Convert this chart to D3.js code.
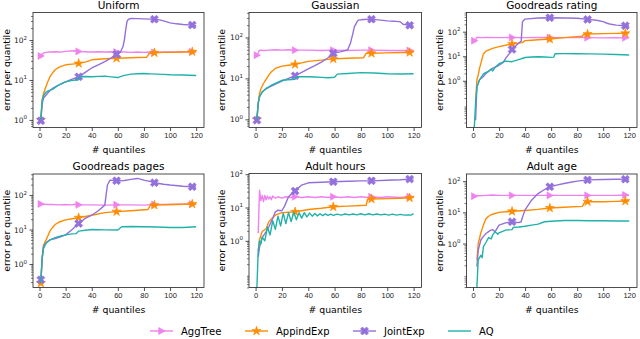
<!DOCTYPE html>
<html>
<head>
<meta charset="utf-8">
<script src="https://cdn.jsdelivr.net/npm/d3@7"></script>
<style>
	body { margin: 0; background: #fff; }
	svg { font-family: "DejaVu Sans", sans-serif; }
</style>
</head>
<body>
<div id="chartDiv"></div>
<script>
; (function () {

	var width = 640;
	var height = 339;

	var titles = ["Uniform", "Gaussian", "Goodreads rating", "Goodreads pages", "Adult hours", "Adult age"];
	var seriesNames = ["AggTree", "AppindExp", "JointExp", "AQ"];
	var xTicks = [0, 20, 40, 60, 80, 100, 120];
	var yTickValues = [1, 10, 100];
	var markerXs = [1, 30, 59, 88, 117];

	// [quantiles, error] per panel
	var aggTree = [
		[[1, 40], [2, 44], [3, 47], [5, 49], [8, 50], [12, 51], [16, 50], [20, 52], [24, 53], [27, 54], [30, 52], [35, 51], [40, 50], [45, 51], [50, 50], [55, 51], [59, 50], [65, 50], [70, 49], [75, 50], [80, 49], [85, 50], [88, 49], [95, 50], [100, 50], [105, 50], [110, 51], [117, 51], [120, 51]],
		[[1, 37], [2, 42], [3, 49], [6, 48], [10, 49], [15, 50], [20, 49], [25, 50], [30, 49], [40, 49], [50, 48], [59, 49], [70, 48], [80, 49], [88, 49], [100, 48], [110, 48], [117, 48], [120, 48]],
		[[1, 43], [2, 48], [3, 59], [6, 57], [10, 58], [20, 57], [30, 58], [40, 57], [50, 58], [59, 58], [70, 57], [80, 58], [88, 57], [100, 56], [110, 57], [117, 56], [120, 57]],
		[[1, 55], [3, 54], [6, 53], [10, 53], [15, 52], [20, 53], [25, 52], [27, 54], [30, 52], [40, 52], [50, 51], [59, 52], [70, 52], [80, 51], [88, 53], [100, 53], [110, 54], [117, 55], [120, 55]],
		[[2, 1.7], [3, 33], [4, 16], [5, 23], [6, 15], [7, 23], [8, 17], [9, 22], [10, 18], [11, 21], [12, 17], [13, 22], [15, 19], [17, 21], [20, 19], [23, 21], [26, 20], [30, 21], [35, 20], [40, 21], [45, 20], [50, 21], [55, 20], [59, 21], [65, 20], [70, 21], [75, 20], [80, 21], [85, 20], [88, 21], [95, 20], [100, 21], [110, 20], [117, 21], [120, 21]],
		[[1, 33], [2, 32], [3, 35], [5, 34], [10, 35], [15, 36], [20, 35], [30, 35], [40, 35], [50, 35], [59, 35], [70, 35], [80, 35], [88, 35], [100, 35], [110, 35], [117, 36], [120, 35]]
	];

	var appindExp = [
		[[1, 1], [2, 3.2], [3, 4.5], [4, 5.6], [6, 8.5], [8, 12], [10, 15], [12, 18], [15, 21], [20, 24], [25, 25], [30, 26], [35, 28], [40, 32], [45, 33], [50, 34], [59, 35], [65, 35.5], [70, 36], [75, 36.5], [82, 37], [84, 46], [88, 48], [95, 49], [100, 49], [110, 50], [117, 51], [120, 52]],
		[[1, 1], [2, 2.5], [3, 4.3], [4, 5.5], [6, 7.5], [8, 9.5], [10, 12], [12, 14.5], [15, 17.5], [20, 20], [25, 21], [30, 22], [35, 24], [40, 26], [50, 28], [59, 30], [70, 31], [82, 32], [84, 41], [88, 41], [100, 42], [110, 43], [117, 43], [120, 44]],
		[[2, 0.13], [3, 1.1], [4, 1.75], [5, 3.2], [6, 5], [7, 8], [8, 12.7], [10, 16], [15, 21], [20, 24.5], [25, 28], [30, 31.5], [35, 34], [38, 36], [40, 43], [45, 45], [50, 47], [59, 50], [70, 57], [80, 63], [84, 65], [85, 78], [88, 80], [100, 83], [110, 85], [117, 86], [120, 87]],
		[[1, 0.28], [2, 1.25], [3, 3.5], [5, 5], [8, 9], [10, 11.5], [12, 14], [15, 16.5], [20, 19], [25, 20.5], [30, 22], [40, 26], [50, 31], [59, 33], [70, 35], [83, 38], [85, 51], [88, 51], [100, 53], [110, 54], [117, 55], [120, 55]],
		[[2, 0.5], [3, 1.1], [5, 1.9], [8, 2.3], [10, 3.7], [12, 4.5], [15, 5.9], [20, 7], [25, 7.2], [30, 7.4], [35, 8], [40, 8.7], [50, 9.5], [59, 10.5], [70, 11], [84, 11.7], [85, 17.4], [88, 18], [100, 18.5], [110, 19], [117, 19.5], [120, 20]],
		[[3, 0.3], [4, 1], [5, 1.45], [6, 2.2], [8, 3.9], [10, 6.3], [12, 7.5], [15, 8.7], [20, 10], [25, 10.5], [30, 10.8], [40, 11.5], [50, 12.5], [59, 13.8], [70, 14.5], [84, 15.6], [86, 21.6], [88, 22], [100, 22], [110, 22.5], [117, 23], [120, 23]]
	];

	var jointExp = [
		[[1, 0.95], [2, 2.5], [3, 3.5], [5, 4.2], [7, 5], [10, 6.2], [13, 7], [15, 7.5], [20, 9], [25, 10.5], [30, 12], [35, 15.5], [40, 20], [45, 24], [50, 29], [55, 36], [59, 44], [62, 50], [64, 70], [65, 100], [66, 180], [67, 288], [68, 330], [70, 346], [75, 345], [80, 340], [85, 335], [88, 333], [92, 320], [95, 302], [100, 270], [105, 255], [110, 245], [117, 237], [120, 230]],
		[[1, 0.95], [2, 2.5], [3, 3.5], [5, 4.7], [7, 5.3], [10, 6], [15, 7.2], [20, 8.6], [25, 10], [30, 11.6], [35, 14], [40, 17], [45, 20.5], [50, 25], [55, 32], [59, 41], [65, 45], [70, 50], [72, 72], [74, 130], [75, 182], [77, 240], [78, 265], [82, 275], [88, 280], [95, 265], [100, 255], [105, 250], [110, 240], [112, 210], [117, 198], [120, 188]],
		[[2, 0.025], [3, 0.6], [4, 0.8], [5, 1.1], [8, 1.5], [10, 2], [12, 2.5], [15, 3.2], [20, 4.3], [23, 5.5], [25, 8], [28, 13], [30, 19], [33, 27], [35, 34], [37, 40], [38, 255], [40, 325], [50, 360], [59, 370], [70, 360], [80, 350], [88, 316], [95, 290], [100, 255], [103, 220], [105, 205], [110, 185], [117, 175], [120, 170]],
		[[1, 0.35], [2, 1.5], [3, 3.2], [5, 4.2], [8, 5], [12, 5.5], [15, 5.9], [20, 7], [25, 10], [30, 15], [35, 21], [40, 26], [45, 35], [50, 51], [51, 100], [52, 195], [54, 270], [59, 260], [65, 265], [70, 285], [75, 303], [80, 270], [85, 244], [88, 228], [95, 205], [100, 195], [110, 180], [117, 174], [120, 172]],
		[[2, 0.33], [3, 0.65], [5, 1.25], [8, 1.9], [10, 2.6], [13, 4.7], [15, 7.4], [17, 8.3], [20, 8], [22, 11], [25, 21], [28, 27], [30, 31], [35, 47], [40, 55], [50, 57], [59, 59], [70, 61], [80, 63], [88, 63], [100, 66], [110, 68], [117, 71], [120, 72]],
		[[3, 0.18], [4, 0.6], [6, 1.3], [8, 1.7], [10, 2.1], [13, 2.6], [15, 2.8], [17, 2.4], [20, 3.9], [25, 4.6], [30, 5], [35, 4.7], [37, 5], [38, 7], [40, 12], [45, 24.5], [50, 40], [55, 54], [59, 66], [65, 76], [70, 84], [75, 92], [80, 100], [88, 110], [100, 113], [110, 115], [117, 116], [120, 116]]
	];

	var aq = [
		[[1, 1], [2, 3], [3, 4], [5, 5], [7, 5.4], [10, 5.8], [12, 6.5], [15, 7.5], [18, 8.5], [20, 9], [25, 9.8], [28, 10], [30, 10.1], [31, 12], [35, 12.2], [40, 12], [45, 12.3], [50, 12.5], [55, 12], [60, 11.5], [63, 12.5], [65, 13], [70, 14], [75, 14.3], [80, 14.5], [85, 14.2], [90, 14], [95, 13.8], [100, 13.5], [110, 13.3], [120, 13]],
		[[1, 1], [2, 2.5], [3, 3.6], [5, 4.6], [8, 5.7], [12, 6.8], [15, 7.5], [20, 9], [25, 9.3], [30, 9.5], [31, 11], [40, 11], [45, 10.8], [50, 10.6], [55, 10.4], [60, 10.7], [62, 12.7], [70, 13.2], [80, 13.8], [90, 13.5], [100, 13], [110, 12.8], [120, 13]],
		[[1, 0.013], [2, 0.13], [3, 0.55], [5, 1.1], [8, 1.9], [10, 2.2], [12, 2.4], [14, 3], [15, 2.5], [17, 3.5], [20, 5], [25, 6.3], [30, 6], [35, 7.3], [40, 8.9], [45, 9.3], [50, 9.5], [55, 9.3], [60, 9], [62, 9.2], [63, 12.7], [70, 12.8], [80, 12.7], [90, 12.5], [100, 12.2], [110, 11.8], [120, 11.3]],
		[[1, 0.28], [2, 1.5], [3, 2.8], [5, 4], [8, 5], [12, 5.8], [15, 6.3], [20, 7], [25, 7.5], [28, 7.6], [30, 9], [35, 9.5], [40, 10], [50, 9.8], [60, 9.7], [63, 12], [70, 12.2], [80, 12], [90, 11.8], [100, 11.5], [110, 11.5], [120, 12]],
		[[1, 0.04], [2, 0.5], [3, 1.0], [4, 0.8], [5, 1.3], [7, 1.0], [9, 2.6], [11, 1.5], [13, 4], [15, 2.2], [17, 5.5], [19, 2.8], [21, 6.8], [23, 3.3], [25, 7], [27, 3.8], [29, 7.2], [31, 4.3], [33, 7], [35, 4.8], [37, 7], [39, 5.2], [41, 6.8], [43, 5.5], [45, 6.6], [47, 5.6], [49, 6.5], [51, 5.7], [53, 6.4], [55, 5.8], [57, 6.3], [59, 5.8], [62, 6.3], [65, 5.9], [68, 6.4], [71, 6.0], [74, 6.4], [77, 6.0], [80, 6.5], [83, 6.0], [86, 6.5], [89, 6.0], [92, 6.4], [95, 6.0], [98, 6.3], [101, 5.9], [104, 6.3], [107, 5.9], [110, 6.2], [113, 5.9], [116, 6.0], [118, 5.9], [120, 6.5]],
		[[3, 0.04], [4, 0.3], [6, 0.42], [7, 0.35], [8, 0.8], [10, 1.1], [12, 1.55], [14, 1.4], [15, 1.85], [17, 2.4], [19, 2.0], [20, 2.2], [25, 2.7], [30, 2.8], [31, 3.3], [35, 3.4], [40, 3.6], [45, 3.9], [50, 4.2], [55, 5], [60, 5.2], [70, 5.5], [80, 5.5], [90, 5.4], [100, 5.4], [110, 5.3], [120, 5.3]]
	];

	var colors = ["#ee82ee", "#ff8c00", "#9370db", "#20b2aa"];
	var markers = ["tri", "star", "x", null];

	// axes boxes in pixels, y limits as log10
	var panels = [
		{ left: 33, right: 204, top: 12.5, bottom: 127.5, ylo: -0.19, yhi: 2.69, labelX: 7 },
		{ left: 249, right: 421.5, top: 12.5, bottom: 127.5, ylo: -0.2, yhi: 2.61, labelX: 222 },
		{ left: 466.5, right: 637, top: 12.5, bottom: 127.5, ylo: -1.9, yhi: 2.78, labelX: 440 },
		{ left: 33, right: 204, top: 174, bottom: 287.5, ylo: -0.68, yhi: 2.61, labelX: 7 },
		{ left: 249, right: 421.5, top: 173.5, bottom: 287.5, ylo: -1.4, yhi: 2.02, labelX: 222 },
		{ left: 466.5, right: 637, top: 174, bottom: 287.5, ylo: -1.41, yhi: 2.23, labelX: 440 }
	];

	var chart;

	init();

	function init() {
		chart = d3.select("#chartDiv").append("svg")
			.attr("width", width)
			.attr("height", height);

		var allSeries = [aggTree, appindExp, jointExp, aq];
		panels.forEach(function (p, i) {
			drawPanel(p, i, allSeries.map(function (s) { return s[i]; }));
		});
		drawLegend();
	}

	function markerPath(type) {
		if (type === "tri") return "M-2.8,-3.5L3.6,0L-2.8,3.5Z";
		if (type === "star") return d3.symbol(d3.symbolStar, 26)();
		if (type === "x") return d3.symbol(d3.symbolCross, 40)();
		return null;
	}

	function drawPanel(p, i, series) {
		var xScale = d3.scaleLinear().domain([-5, 126]).range([p.left, p.right]);
		var yScale = d3.scaleLog().domain([Math.pow(10, p.ylo), Math.pow(10, p.yhi)]).range([p.bottom, p.top]);

		var g = chart.append("g");

		g.append("clipPath").attr("id", "clip" + i)
			.append("rect")
			.attr("x", p.left).attr("y", p.top)
			.attr("width", p.right - p.left).attr("height", p.bottom - p.top);

		var plot = g.append("g").attr("clip-path", "url(#clip" + i + ")");

		var line = d3.line()
			.x(function (d) { return xScale(d[0]); })
			.y(function (d) { return yScale(d[1]); });

		series.forEach(function (pts, s) {
			plot.append("path")
				.attr("d", line(pts))
				.attr("fill", "none")
				.attr("stroke", colors[s])
				.attr("stroke-width", 1.4)
				.attr("stroke-linejoin", "round");

			if (!markers[s]) return;
			var marked = pts.filter(function (d) { return markerXs.indexOf(d[0]) >= 0; });
			plot.selectAll(null).data(marked).enter().append("path")
				.attr("d", markerPath(markers[s]))
				.attr("transform", function (d) {
					return "translate(" + xScale(d[0]) + "," + yScale(d[1]) + ")" + (markers[s] === "x" ? " rotate(45)" : "");
				})
				.attr("fill", colors[s])
				.attr("stroke", colors[s])
				.attr("stroke-width", 0.6);
		});

		// frame
		g.append("rect")
			.attr("x", p.left).attr("y", p.top)
			.attr("width", p.right - p.left).attr("height", p.bottom - p.top)
			.attr("fill", "none").attr("stroke", "#222").attr("stroke-width", 0.8);

		// x axis
		var xAxis = d3.axisBottom(xScale).tickValues(xTicks).tickSize(3.5).tickPadding(2);
		var xg = g.append("g").attr("transform", "translate(0," + p.bottom + ")").call(xAxis);
		xg.select(".domain").remove();
		xg.selectAll("text").style("font-size", "7.5px").attr("fill", "#222");
		xg.selectAll("line").attr("stroke", "#222").attr("stroke-width", 0.8);

		// y axis: minor ticks
		var minor = [];
		for (var d = Math.floor(p.ylo); d <= Math.ceil(p.yhi); d++) {
			for (var k = 2; k <= 9; k++) {
				var v = k * Math.pow(10, d);
				var lv = Math.log10(v);
				if (lv >= p.ylo && lv <= p.yhi) minor.push(v);
			}
		}
		var yMinor = d3.axisLeft(yScale).tickValues(minor).tickSize(2).tickFormat("");
		var ymg = g.append("g").attr("transform", "translate(" + p.left + ",0)").call(yMinor);
		ymg.select(".domain").remove();
		ymg.selectAll("line").attr("stroke", "#222").attr("stroke-width", 0.6);

		var majors = yTickValues.filter(function (v) {
			var lv = Math.log10(v);
			return lv >= p.ylo && lv <= p.yhi + 0.001;
		});
		var yAxis = d3.axisLeft(yScale).tickValues(majors).tickSize(3.5).tickFormat("");
		var yg = g.append("g").attr("transform", "translate(" + p.left + ",0)").call(yAxis);
		yg.select(".domain").remove();
		yg.selectAll("line").attr("stroke", "#222").attr("stroke-width", 0.8);

		majors.forEach(function (v) {
			var t = g.append("text")
				.attr("x", p.left - 6)
				.attr("y", yScale(v) + 3)
				.attr("text-anchor", "end")
				.style("font-size", "7.5px")
				.attr("fill", "#222");
			t.append("tspan").text("10");
			t.append("tspan").attr("dy", -3.5).style("font-size", "5.5px").text(String(Math.round(Math.log10(v))));
		});

		// title and labels
		g.append("text")
			.attr("x", (p.left + p.right) / 2)
			.attr("y", p.top - 4)
			.attr("text-anchor", "middle")
			.style("font-size", "10.5px")
			.text(titles[i]);

		g.append("text")
			.attr("x", (p.left + p.right) / 2)
			.attr("y", p.bottom + 25)
			.attr("text-anchor", "middle")
			.style("font-size", "9.3px")
			.text("# quantiles");

		g.append("text")
			.attr("text-anchor", "middle")
			.attr("transform", "translate(" + p.labelX + "," + ((p.top + p.bottom) / 2) + ") rotate(-90)")
			.attr("dy", "0.35em")
			.style("font-size", "9.3px")
			.text("error per quantile");
	}

	function drawLegend() {
		var starts = [150, 245, 353, 448];
		var ly = 331;
		var lg = chart.append("g");
		seriesNames.forEach(function (name, s) {
			lg.append("line")
				.attr("x1", starts[s]).attr("x2", starts[s] + 23)
				.attr("y1", ly).attr("y2", ly)
				.attr("stroke", colors[s]).attr("stroke-width", 1.4);
			if (markers[s]) {
				lg.append("path")
					.attr("d", markerPath(markers[s]))
					.attr("transform", "translate(" + (starts[s] + 11.5) + "," + ly + ")" + (markers[s] === "x" ? " rotate(45)" : ""))
					.attr("fill", colors[s]).attr("stroke", colors[s]).attr("stroke-width", 0.6);
			}
			lg.append("text")
				.attr("x", starts[s] + 31)
				.attr("y", ly)
				.attr("dy", "0.35em")
				.style("font-size", "10px")
				.text(name);
		});
	}

})();
</script>
</body>
</html>
